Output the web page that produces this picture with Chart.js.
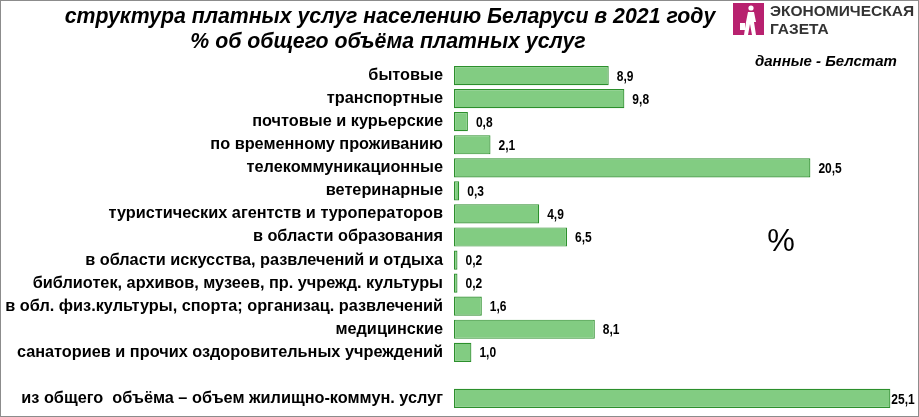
<!DOCTYPE html>
<html lang="ru">
<head>
  <meta charset="UTF-8" />
  <title>структура платных услуг</title>
  <script src="https://cdn.jsdelivr.net/npm/chart.js"></script>
  <style>
    html, body { margin: 0; padding: 0; background: #fff; }
    #wrap { width: 919px; height: 417px; position: relative; }
  </style>
</head>
<body>
  <div id="wrap"><canvas id="chart" width="919" height="417"></canvas></div>

  <script>
    const categories = [
      "бытовые",
      "транспортные",
      "почтовые и курьерские",
      "по временному проживанию",
      "телекоммуникационные",
      "ветеринарные",
      "туристических агентств и туроператоров",
      "в области образования",
      "в области искусства, развлечений и отдыха",
      "библиотек, архивов, музеев, пр. учрежд. культуры",
      "в обл. физ.культуры, спорта; организац. развлечений",
      "медицинские",
      "санаториев и прочих оздоровительных учреждений",
      "",
      "из общего  объёма – объем жилищно-коммун. услуг"
    ];
    const shares = [8.9, 9.8, 0.8, 2.1, 20.5, 0.3, 4.9, 6.5, 0.2, 0.2, 1.6, 8.1, 1.0, null, 25.1];

    const titleLines = [
      "структура платных услуг населению Беларуси в 2021 году",
      "% об общего объёма платных услуг"
    ];
    const sourceNote = "данные - Белстат";

    const fmt = v => v.toFixed(1).replace(".", ",");

    // values at bar ends, titles, logo, frame
    const decor = {
      id: "decor",
      afterDatasetsDraw(chart) {
        const c = chart.ctx;
        const meta = chart.getDatasetMeta(0);
        c.fillStyle = "#000";
        meta.data.forEach((bar, i) => {
          const v = shares[i];
          if (v == null) return;
          const gap = i === shares.length - 1 ? 1 : 8;
          // narrow look: squeeze the text horizontally
          c.save();
          c.translate(bar.x + gap, bar.y + 1);
          c.scale(0.8, 1);
          c.font = "bold 15px 'Liberation Sans', Arial, sans-serif";
          c.textBaseline = "middle";
          c.textAlign = "left";
          c.fillText(fmt(v), 0, 0);
          c.restore();
        });
      },
      afterDraw(chart) {
        const c = chart.ctx;
        c.save();
        // title
        c.fillStyle = "#000";
        c.textAlign = "center";
        c.textBaseline = "middle";
        c.font = "italic bold 21.3px 'Liberation Sans', Arial, sans-serif";
        c.fillText(titleLines[0], 390, 17);
        c.fillText(titleLines[1], 388, 42);

        // source
        c.font = "italic bold 15px 'Liberation Sans', Arial, sans-serif";
        c.textAlign = "left";
        c.fillText(sourceNote, 755, 62);

        // big percent sign
        c.font = "31px 'Liberation Sans', Arial, sans-serif";
        c.textAlign = "center";
        c.fillText("%", 781, 242);

        // logo
        c.fillStyle = "#b8216f";
        c.fillRect(733, 3, 31, 32);
        c.fillStyle = "#fff";
        c.beginPath();
        c.arc(751, 8, 2.6, 0, Math.PI * 2);
        c.fill();
        c.beginPath();
        c.moveTo(748, 12); c.lineTo(754, 12); c.lineTo(756, 22); c.lineTo(754, 22);
        c.lineTo(756, 35); c.lineTo(752, 35); c.lineTo(750, 24); c.lineTo(748, 35);
        c.lineTo(744, 35); c.lineTo(746, 22); c.closePath();
        c.fill();
        c.fillRect(740, 23, 5, 7);
        c.fillStyle = "#333";
        c.textAlign = "left";
        c.font = "bold 15.5px 'Liberation Sans', Arial, sans-serif";
        c.fillText("ЭКОНОМИЧЕСКАЯ", 770, 12);
        c.fillText("ГАЗЕТА", 770, 30);

        // frame
        c.strokeStyle = "#8c8c8c";
        c.lineWidth = 1;
        c.strokeRect(0.5, 0.5, chart.width - 1, chart.height - 1);
        c.restore();
      }
    };

    new Chart(document.getElementById("chart"), {
      type: "bar",
      data: {
        labels: categories,
        datasets: [{
          data: shares,
          backgroundColor: "#82cc82",
          borderColor: "#2c8f2c",
          borderWidth: 1.2,
          borderSkipped: false,
          barPercentage: 0.85,
          categoryPercentage: 0.98
        }]
      },
      options: {
        indexAxis: "y",
        responsive: false,
        animation: false,
        events: [],
        layout: { padding: { top: 64, bottom: 7, left: 0, right: 13 } },
        plugins: { legend: { display: false }, tooltip: { enabled: false } },
        scales: {
          x: { display: false, min: 0, max: 26 },
          y: {
            grid: { display: false, drawTicks: false },
            border: { display: false },
            afterFit(scale) {
              scale.width = 454;
              scale.paddingTop = 0;
              scale.paddingBottom = 0;
            },
            ticks: {
              padding: 11,
              color: "#000",
              autoSkip: false,
              font: { family: "'Liberation Sans', Arial, sans-serif", size: 16.3, weight: "bold" }
            }
          }
        }
      },
      plugins: [decor]
    });
  </script>
</body>
</html>
